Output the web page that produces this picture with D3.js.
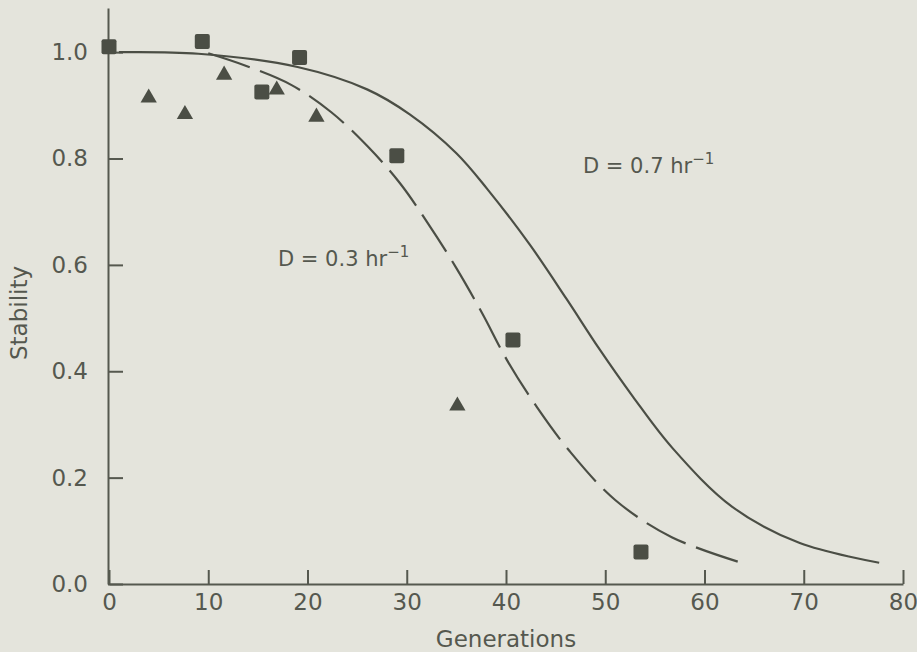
<!DOCTYPE html>
<html>
<head>
<meta charset="utf-8">
<script src="https://cdn.jsdelivr.net/npm/d3@7"></script>
<style>
  body { margin: 0; background: #e4e4dc; }
  svg { display: block; }
  text { font-family: "DejaVu Sans", sans-serif; fill: #55584f; }
</style>
</head>
<body>
<svg id="chart"></svg>
<script>
// Datos
const squareGen = [0, 9.4, 15.4, 19.2, 29.0, 40.7, 53.6];
const squareStab = [1.01, 1.02, 0.925, 0.99, 0.805, 0.459, 0.06];

const triGen = [4.0, 7.65, 11.6, 16.9, 20.9, 35.1];
const triStab = [0.914, 0.883, 0.957, 0.929, 0.878, 0.335];

// curva D = 0.7 (continua)
const solidGen = [1, 9, 19, 26, 30.3, 35, 38.1, 42.4, 46.1, 49.4, 52.8, 56.8, 62.8, 69.6, 77.6];
const solidStab = [1.0, 0.997, 0.972, 0.93, 0.883, 0.81, 0.743, 0.638, 0.536, 0.442, 0.352, 0.255, 0.145, 0.077, 0.04];

// curva D = 0.3 (discontinua)
const dashGen = [10, 13.7, 18.4, 22.4, 26.1, 29.3, 32.1, 35, 37.6, 40.1, 43.1, 46.4, 51, 56.7, 63.7];
const dashStab = [0.998, 0.975, 0.938, 0.887, 0.822, 0.754, 0.679, 0.594, 0.509, 0.421, 0.333, 0.25, 0.158, 0.088, 0.04];

const xTicks = [0, 10, 20, 30, 40, 50, 60, 70, 80];
const yTicks = [0, 0.2, 0.4, 0.6, 0.8, 1.0];

const width = 917;
const height = 652;
const ink = "#4b4e45";

const svg = d3.select("#chart")
    .attr("width", width)
    .attr("height", height);

// Escalas
const x = d3.scaleLinear().domain([0, 80]).range([109, 903]);
const y = d3.scaleLinear().domain([0, 1.083]).range([584, 8]);

// Ejes
const xAxis = d3.axisBottom(x)
    .tickValues(xTicks)
    .tickSize(-14)
    .tickSizeOuter(0)
    .tickPadding(10)
    .tickFormat(d3.format("d"));

const yAxis = d3.axisLeft(y)
    .tickValues(yTicks)
    .tickSize(-15)
    .tickSizeOuter(0)
    .tickPadding(20)
    .tickFormat(d3.format(".1f"));

const gx = svg.append("g")
    .attr("transform", `translate(0, ${y(0)})`)
    .call(xAxis);

const gy = svg.append("g")
    .attr("transform", `translate(108, 0)`)
    .call(yAxis);

[gx, gy].forEach(g => {
    g.selectAll("path, line").attr("stroke", "#55584f").attr("stroke-width", 2);
    g.selectAll("text").attr("font-size", 23).attr("fill", "#55584f")
        .style("font-family", "'DejaVu Sans', sans-serif");
});

// Titulos de ejes
svg.append("text")
    .attr("x", 506)
    .attr("y", 647)
    .attr("text-anchor", "middle")
    .attr("font-size", 23)
    .text("Generations");

svg.append("text")
    .attr("transform", "translate(27, 313) rotate(-90)")
    .attr("text-anchor", "middle")
    .attr("font-size", 23)
    .text("Stability");

// Curvas
const line = d3.line()
    .x(d => x(d[0]))
    .y(d => y(d[1]))
    .curve(d3.curveCatmullRom.alpha(0.5));

svg.append("path")
    .datum(d3.zip(solidGen, solidStab))
    .attr("d", line)
    .attr("fill", "none")
    .attr("stroke", ink)
    .attr("stroke-width", 2.2);

svg.append("path")
    .datum(d3.zip(dashGen, dashStab))
    .attr("d", line)
    .attr("fill", "none")
    .attr("stroke", ink)
    .attr("stroke-width", 2.2)
    .attr("stroke-dasharray", "44 11");

// Puntos
svg.selectAll(".sq")
    .data(d3.zip(squareGen, squareStab))
    .enter()
    .append("rect")
    .attr("class", "sq")
    .attr("x", d => x(d[0]) - 7.5)
    .attr("y", d => y(d[1]) - 7.5)
    .attr("width", 15)
    .attr("height", 15)
    .attr("rx", 2)
    .attr("fill", ink);

svg.selectAll(".tri")
    .data(d3.zip(triGen, triStab))
    .enter()
    .append("path")
    .attr("class", "tri")
    .attr("d", d3.symbol(d3.symbolTriangle, 115))
    .attr("transform", d => `translate(${x(d[0])}, ${y(d[1])})`)
    .attr("fill", ink);

// Etiquetas de las curvas
function label(xp, yp, txt) {
    const t = svg.append("text")
        .attr("x", xp)
        .attr("y", yp)
        .attr("font-size", 21);
    t.append("tspan").text(txt);
    t.append("tspan").attr("dy", -9).attr("font-size", 15).text("\u22121");
}
label(583, 173, "D = 0.7 hr");
label(278, 266, "D = 0.3 hr");
</script>
</body>
</html>
